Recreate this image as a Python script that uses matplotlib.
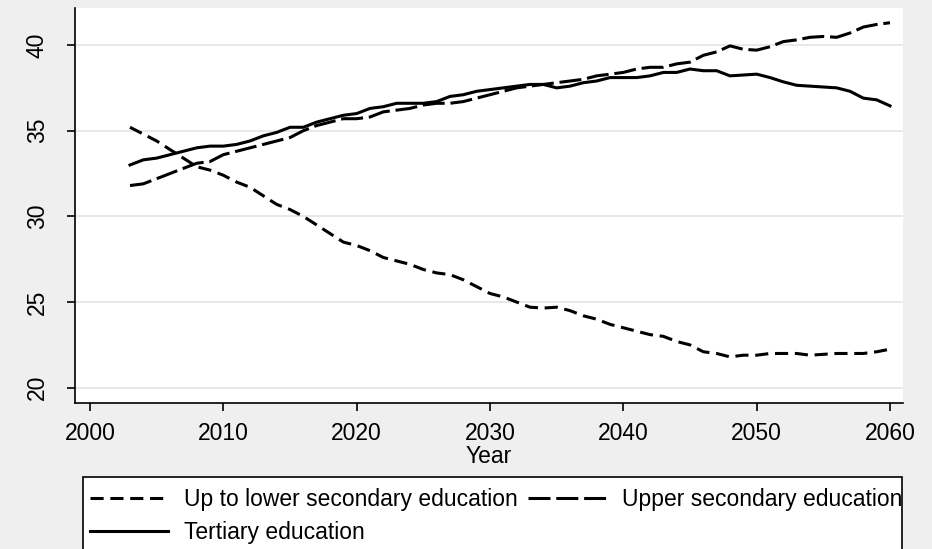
import numpy as np
import matplotlib
matplotlib.use("Agg")
import matplotlib.pyplot as plt
from matplotlib.patches import Rectangle

plt.rcParams['font.family'] = ['Liberation Sans', 'DejaVu Sans']

years = list(range(2003, 2061))

lower_sec = [35.2, 34.8, 34.4, 33.9, 33.4, 32.9, 32.7, 32.4, 32.0, 31.7,
             31.2, 30.7, 30.4, 30.0, 29.5, 29.0, 28.5, 28.3, 28.0, 27.6,
             27.4, 27.2, 26.9, 26.7, 26.6, 26.3, 25.9, 25.5, 25.3, 25.0,
             24.7, 24.65, 24.7, 24.5, 24.2, 24.0, 23.7, 23.5, 23.3, 23.1,
             23.0, 22.7, 22.5, 22.1, 22.0, 21.8, 21.9, 21.9, 22.0, 22.0,
             22.0, 21.9, 21.95, 22.0, 22.0, 22.0, 22.1, 22.25]

upper_sec = [31.8, 31.9, 32.2, 32.5, 32.8, 33.1, 33.2, 33.6, 33.8, 34.0,
             34.2, 34.4, 34.6, 35.0, 35.3, 35.5, 35.7, 35.7, 35.8, 36.1,
             36.2, 36.3, 36.5, 36.6, 36.6, 36.7, 36.9, 37.1, 37.3, 37.5,
             37.6, 37.7, 37.8, 37.9, 38.0, 38.2, 38.3, 38.4, 38.6, 38.7,
             38.7, 38.9, 39.0, 39.4, 39.6, 39.95, 39.75, 39.7, 39.9, 40.2,
             40.3, 40.45, 40.5, 40.45, 40.7, 41.05, 41.2, 41.3]

tertiary = [33.0, 33.3, 33.4, 33.6, 33.8, 34.0, 34.1, 34.1, 34.2, 34.4,
            34.7, 34.9, 35.2, 35.2, 35.5, 35.7, 35.9, 36.0, 36.3, 36.4,
            36.6, 36.6, 36.6, 36.7, 37.0, 37.1, 37.3, 37.4, 37.5, 37.6,
            37.7, 37.7, 37.5, 37.6, 37.8, 37.9, 38.1, 38.1, 38.1, 38.2,
            38.4, 38.4, 38.6, 38.5, 38.5, 38.2, 38.25, 38.3, 38.1, 37.85,
            37.65, 37.6, 37.55, 37.5, 37.3, 36.9, 36.8, 36.45]

labels = ["Up to lower secondary education", "Upper secondary education",
          "Tertiary education"]
xticks = [2000, 2010, 2020, 2030, 2040, 2050, 2060]
yticks = [20, 25, 30, 35, 40]

bg = '#efefef'
fig = plt.figure(figsize=(9.32, 5.49), dpi=100, facecolor=bg)
ax = fig.add_axes([75/932, 146/549, 828/932, 395/549])
ax.set_facecolor('white')

lw = 2.2
l1, = ax.plot(years, lower_sec, color='black', lw=lw, dashes=(4.3, 2.2))
l2, = ax.plot(years, upper_sec, color='black', lw=lw, dashes=(7.2, 1.9))
l3, = ax.plot(years, tertiary, color='black', lw=lw)

ax.set_xlim(1998.875, 2060.975)
ax.set_ylim(19.11, 42.16)
ax.set_xticks(xticks)
ax.set_yticks(yticks)
ax.yaxis.grid(True, color='#e6e6e6', lw=1.3)
ax.set_axisbelow(True)
for s in ['top', 'right']:
    ax.spines[s].set_visible(False)
for s in ['left', 'bottom']:
    ax.spines[s].set_linewidth(1.2)
ax.tick_params(axis='both', length=6, width=1.2, labelsize=16.5)
ax.tick_params(axis='x', pad=8)
ax.tick_params(axis='y', pad=13)
plt.setp(ax.get_yticklabels(), rotation=90, va='center')
ax.set_xlabel("Year", fontsize=16.5, labelpad=0)

# legend box (runs off the bottom like the original)
fig.patches.append(Rectangle((83/932, -0.05), (902-83)/932, (549-477)/549 + 0.05,
                             transform=fig.transFigure, facecolor='white',
                             edgecolor='black', lw=1.2, zorder=0))
# column-wise fill: col 1 = lower sec, tertiary; col 2 = upper sec
fig.legend([l1, l3, l2], [labels[0], labels[2], labels[1]], ncol=2,
           loc='upper left', bbox_to_anchor=(90/932, 1 - 488/549),
           frameon=False, fontsize=16.5,
           handlelength=3.4, handletextpad=0.7, columnspacing=0.45,
           labelspacing=0.45, borderpad=0, borderaxespad=0)

fig.savefig("out.png", dpi=100, facecolor=bg)
